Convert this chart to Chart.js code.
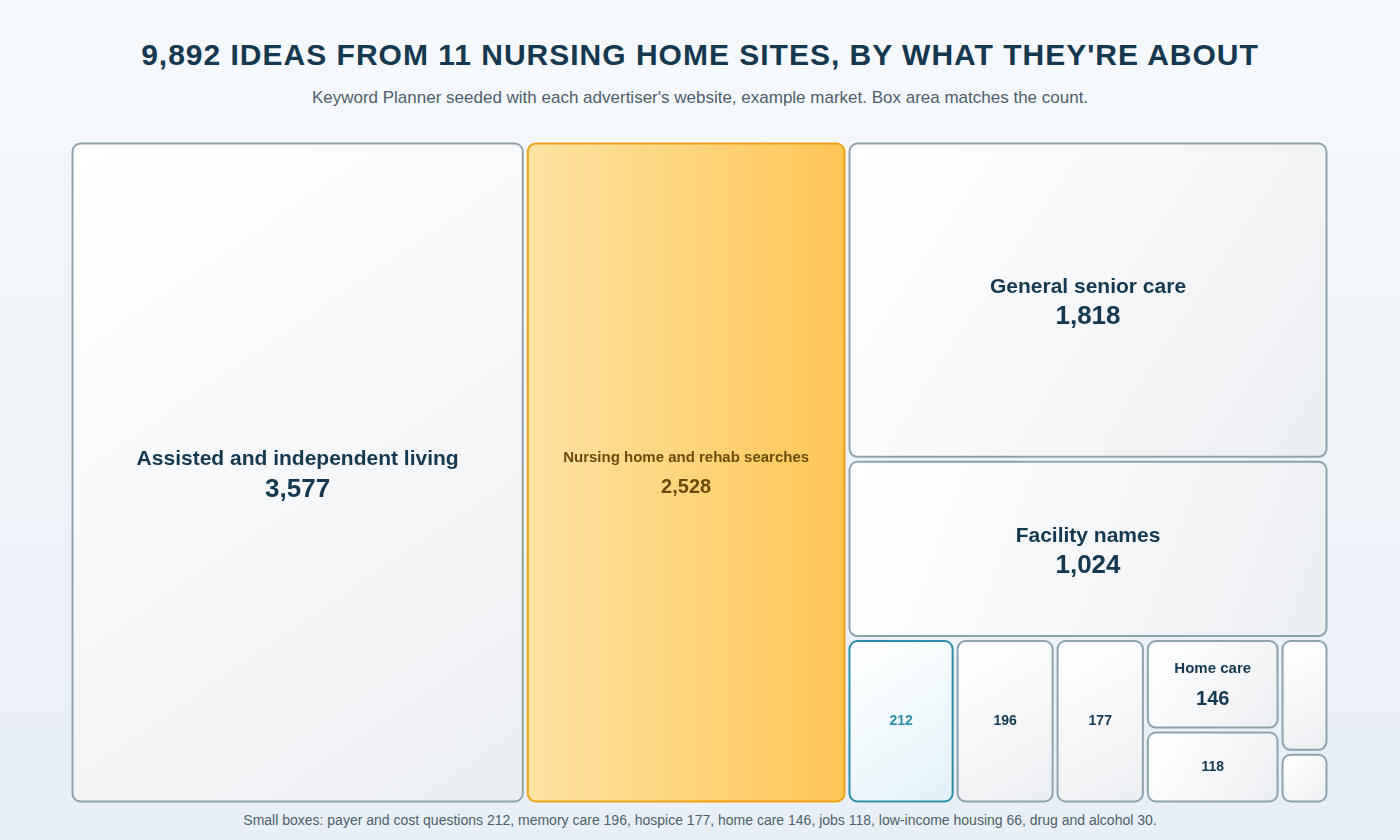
<!DOCTYPE html>
<html><head><meta charset="utf-8">
<script src="https://cdn.jsdelivr.net/npm/chart.js@4/dist/chart.umd.min.js"></script>
<style>
html,body{margin:0;padding:0;width:1400px;height:840px;overflow:hidden;font-family:"Liberation Sans",Arial,sans-serif;background:linear-gradient(180deg,#f6f9fc 0%,#e8eff6 100%);}
#t{position:absolute;top:38px;left:0;width:1400px;text-align:center;font-weight:bold;font-size:30px;letter-spacing:1px;color:#14384f;}
#s{position:absolute;top:88px;left:0;width:1400px;text-align:center;font-size:17px;color:#4d5f6b;}
#f{position:absolute;top:812px;left:0;width:1400px;text-align:center;font-size:14px;color:#4d5f6b;}
#w{position:absolute;left:70px;top:141px;width:1259px;height:663px;}
</style></head><body>
<div id="t">9,892 IDEAS FROM 11 NURSING HOME SITES, BY WHAT THEY'RE ABOUT</div>
<div id="s">Keyword Planner seeded with each advertiser's website, example market. Box area matches the count.</div>
<div id="w"><canvas id="c"></canvas></div>
<div id="f">Small boxes: payer and cost questions 212, memory care 196, hospice 177, home care 146, jobs 118, low-income housing 66, drug and alcohol 30.</div>
<script>
const categories = ["Assisted and independent living","Nursing home and rehab searches","General senior care","Facility names","Payer and cost questions","Memory care","Hospice","Home care","Jobs","Low-income housing","Drug and alcohol"];
const values = [3577,2528,1818,1024,212,196,177,146,118,66,30];
const showName = [true,true,true,true,false,false,false,true,false,false,false];
const showValue = [true,true,true,true,true,true,true,true,true,false,false];
// grouping structure: alternating split direction (h = side by side, v = stacked)
const groups = {dir:"h",items:[0,1,{dir:"v",items:[2,3,{dir:"h",items:[4,5,6,{dir:"v",items:[7,8]},{dir:"v",items:[9,10]}]}]}]};

function sum(g){return typeof g==="number"?values[g]:g.items.reduce((a,b)=>a+sum(b),0);}
const rects=[];
function lay(g,x0,y0,x1,y1){
  if(typeof g==="number"){rects[g]={x0,y0,x1,y1};return;}
  const tot=sum(g);let p=g.dir==="h"?x0:y0;
  g.items.forEach(it=>{const f=sum(it)/tot;
    if(g.dir==="h"){const w=(x1-x0)*f;lay(it,p,y0,p+w,y1);p+=w;}
    else{const h=(y1-y0)*f;lay(it,x0,p,x1,p+h);p+=h;}});
}
lay(groups,0,0,1,1);

function rr(ctx,x,y,w,h,r){ctx.beginPath();ctx.moveTo(x+r,y);ctx.arcTo(x+w,y,x+w,y+h,r);ctx.arcTo(x+w,y+h,x,y+h,r);ctx.arcTo(x,y+h,x,y,r);ctx.arcTo(x,y,x+w,y,r);ctx.closePath();}

const treemap={id:"treemap",afterDatasetsDraw(chart){
  const ctx=chart.ctx,xs=chart.scales.x,ys=chart.scales.y,g=2.5;
  rects.forEach((r,i)=>{
    const X0=xs.getPixelForValue(r.x0)+g,X1=xs.getPixelForValue(r.x1)-g;
    const Y0=ys.getPixelForValue(r.y0)+g,Y1=ys.getPixelForValue(r.y1)-g;
    const w=X1-X0,h=Y1-Y0;let fill,stroke="#8fa3ad",tc="#14384f";
    if(i===1){fill=ctx.createLinearGradient(X0,0,X1,0);fill.addColorStop(0,"#ffe3a3");fill.addColorStop(1,"#ffc655");stroke="#f2a116";tc="#6b4a0c";}
    else if(i===4){fill=ctx.createLinearGradient(X0,Y0,X1,Y1);fill.addColorStop(0,"#ffffff");fill.addColorStop(1,"#e2f2f8");stroke="#2a8fa8";tc="#2a8fa8";}
    else{fill=ctx.createLinearGradient(X0,Y0,X1,Y1);fill.addColorStop(0,"#ffffff");fill.addColorStop(1,"#eceff2");}
    ctx.save();rr(ctx,X0,Y0,w,h,8);ctx.fillStyle=fill;ctx.fill();ctx.lineWidth=2;ctx.strokeStyle=stroke;ctx.stroke();
    ctx.fillStyle=tc;ctx.textAlign="center";ctx.textBaseline="middle";
    const cx=(X0+X1)/2,cy=(Y0+Y1)/2;const big=values[i]>=1000&&i!==1;
    const nf=big?21:15,vf=big?26:(showName[i]?20:14);
    if(showName[i]){ctx.font="bold "+nf+"px 'Liberation Sans',Arial";ctx.fillText(categories[i],cx,cy-(big?13:15));}
    if(showValue[i]){ctx.font="bold "+vf+"px 'Liberation Sans',Arial";ctx.fillText(values[i].toLocaleString("en-US"),cx,showName[i]?cy+(big?17:15):cy);}
    ctx.restore();
  });
}};
new Chart(document.getElementById("c"),{type:"scatter",data:{datasets:[{data:[]}]},
 options:{responsive:true,maintainAspectRatio:false,animation:false,layout:{padding:0},
  plugins:{legend:{display:false},tooltip:{enabled:false}},
  scales:{x:{type:"linear",min:0,max:1,display:false},y:{type:"linear",min:0,max:1,reverse:true,display:false}}},
 plugins:[treemap]});
</script></body></html>
